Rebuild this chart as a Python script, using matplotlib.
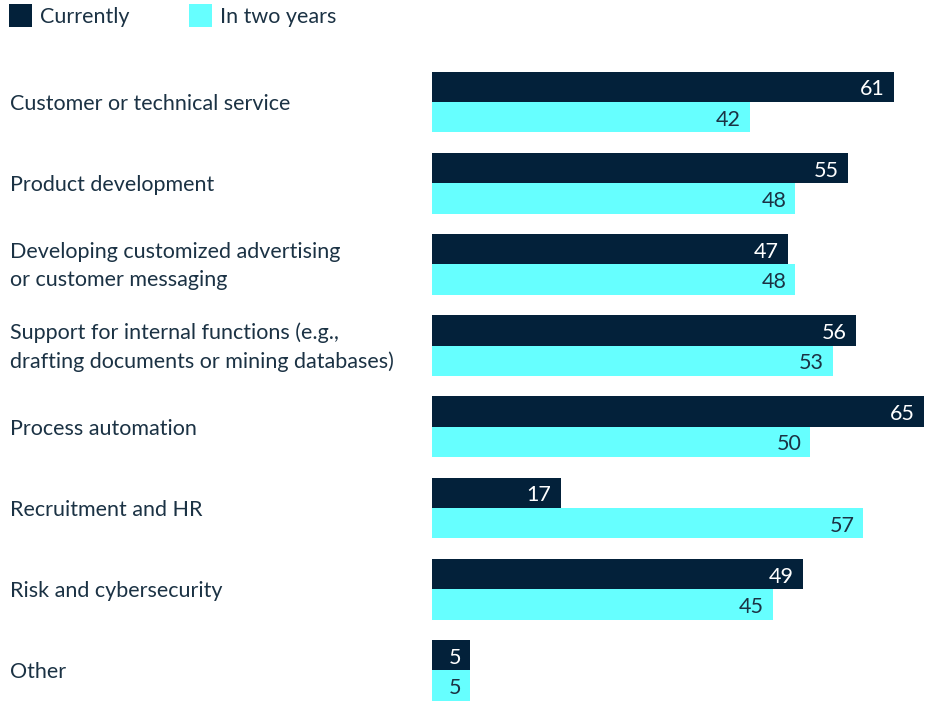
import matplotlib.pyplot as plt
from matplotlib.patches import Patch
import numpy as np

categories = [
    "Customer or technical service",
    "Product development",
    "Developing customized advertising\nor customer messaging",
    "Support for internal functions (e.g.,\ndrafting documents or mining databases)",
    "Process automation",
    "Recruitment and HR",
    "Risk and cybersecurity",
    "Other",
]
currently = [61, 55, 47, 56, 65, 17, 49, 5]
in_two_years = [42, 48, 48, 53, 50, 57, 45, 5]
series_names = ["Currently", "In two years"]

NAVY = "#03213A"
CYAN = "#66FFFF"
TEXT = "#1B3244"
FS = 15.5

plt.rcParams["font.family"] = ["Lato", "DejaVu Sans"]

W, H = 933, 702
fig = plt.figure(figsize=(W / 100, H / 100), dpi=100)

# axes placed in pixel terms: bars start at x=432, value 65 reaches x=924
left_px, right_px = 432, 924
top_px = 61.4
ax = fig.add_axes([left_px / W, 0, (right_px - left_px) / W, (H - top_px) / H])

y = np.arange(len(categories))
bh = 0.374
b1 = ax.barh(y - bh / 2, currently, height=bh, color=NAVY, linewidth=0)
b2 = ax.barh(y + bh / 2, in_two_years, height=bh, color=CYAN, linewidth=0)

ax.set_xlim(0, 65)
ax.set_ylim(7.389, -0.5)
ax.axis("off")

# value labels inside the bar ends
for bars, vals, col in ((b1, currently, "white"), (b2, in_two_years, TEXT)):
    for bar, v in zip(bars, vals):
        ax.annotate(str(v), (v, bar.get_y() + bar.get_height() / 2),
                    xytext=(-6.5, -1.8), textcoords="offset points",
                    ha="right", va="center", color=col, fontsize=FS)

# category labels at the left edge of the figure
trans = ax.get_yaxis_transform()
x_lab = -(left_px - 10) / (right_px - left_px)
for i, cat in enumerate(categories):
    ax.annotate(cat, (x_lab, i), xycoords=trans,
                xytext=(0, -1.3), textcoords="offset points",
                ha="left", va="center", color=TEXT, fontsize=FS,
                linespacing=1.52, annotation_clip=False)

handles = [Patch(facecolor=NAVY, edgecolor="none"), Patch(facecolor=CYAN, edgecolor="none")]
fig.legend(handles, series_names, loc="upper left", bbox_to_anchor=(9 / W, 1 - 4 / H),
           ncol=2, frameon=False, fontsize=FS, handlelength=1.07, handleheight=1.27,
           handletextpad=0.37, columnspacing=2.75, borderaxespad=0, borderpad=0,
           labelcolor=TEXT)

fig.savefig("out.png", dpi=100)
